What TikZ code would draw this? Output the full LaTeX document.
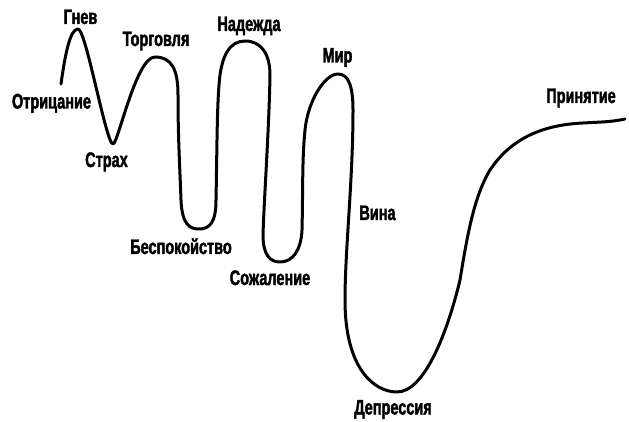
\documentclass[tikz,border=0pt]{standalone}
\usepackage{fontspec}
\newfontfamily\lblfont{Liberation Sans}[UprightFont=* Bold, FakeStretch=0.69, FakeBold=1.8]
\begin{document}
\begin{tikzpicture}[x=1pt,y=-1pt,
  lbl/.style={anchor=base,inner sep=0pt,font=\lblfont\fontsize{21}{21}\selectfont},
  curve/.style={line width=3pt,line cap=round,line join=round}]
\useasboundingbox (0,0) rectangle (629,422);
\draw[curve] (61,84) .. controls (65,55) and (70,29) .. (78,29)
  .. controls (86,29) and (106,144) .. (113,144)
  .. controls (118,144) and (136,57) .. (155,57)
  .. controls (172,57) and (178,70) .. (178,95)
  .. controls (178,140) and (180,170) .. (181,200)
  .. controls (182,225) and (190,229) .. (199,229)
  .. controls (210,229) and (216,222) .. (216,200)
  .. controls (217,150) and (217,110) .. (219,85)
  .. controls (221,55) and (230,41) .. (245,41)
  .. controls (262,41) and (270,55) .. (270,75)
  .. controls (269,130) and (264,200) .. (263,235)
  .. controls (263,255) and (270,262) .. (280,262)
  .. controls (293,262) and (301,250) .. (302,230)
  .. controls (303,190) and (302,160) .. (305,130)
  .. controls (308,100) and (325,74) .. (338,74)
  .. controls (348,74) and (353,85) .. (353,110)
  .. controls (353,180) and (345,250) .. (345,300)
  .. controls (345,370) and (375,392) .. (397,392)
  .. controls (425,392) and (448,330) .. (460,280)
  .. controls (468,230) and (475,195) .. (490,170)
  .. controls (510,140) and (540,125) .. (583,123)
  .. controls (600,122) and (612,122) .. (625,119);
\node[lbl] (gnev) at (80.5,24) {Гнев};
\node[lbl] (otr) at (51.5,108.5) {Отрицание};
\node[lbl] (strah) at (106.5,167) {Страх};
\node[lbl] (torg) at (156,46) {Торговля};
\node[lbl] (nad) at (249,31) {Надежда};
\node[lbl] (besp) at (181,254) {Беспокойство};
\node[lbl] (sozh) at (270,285) {Сожаление};
\node[lbl] (mir) at (337.5,62.5) {Мир};
\node[lbl] (vina) at (377.5,220) {Вина};
\node[lbl] (depr) at (393,414.5) {Депрессия};
\node[lbl] (prin) at (581,103) {Принятие};
\end{tikzpicture}
\end{document}
